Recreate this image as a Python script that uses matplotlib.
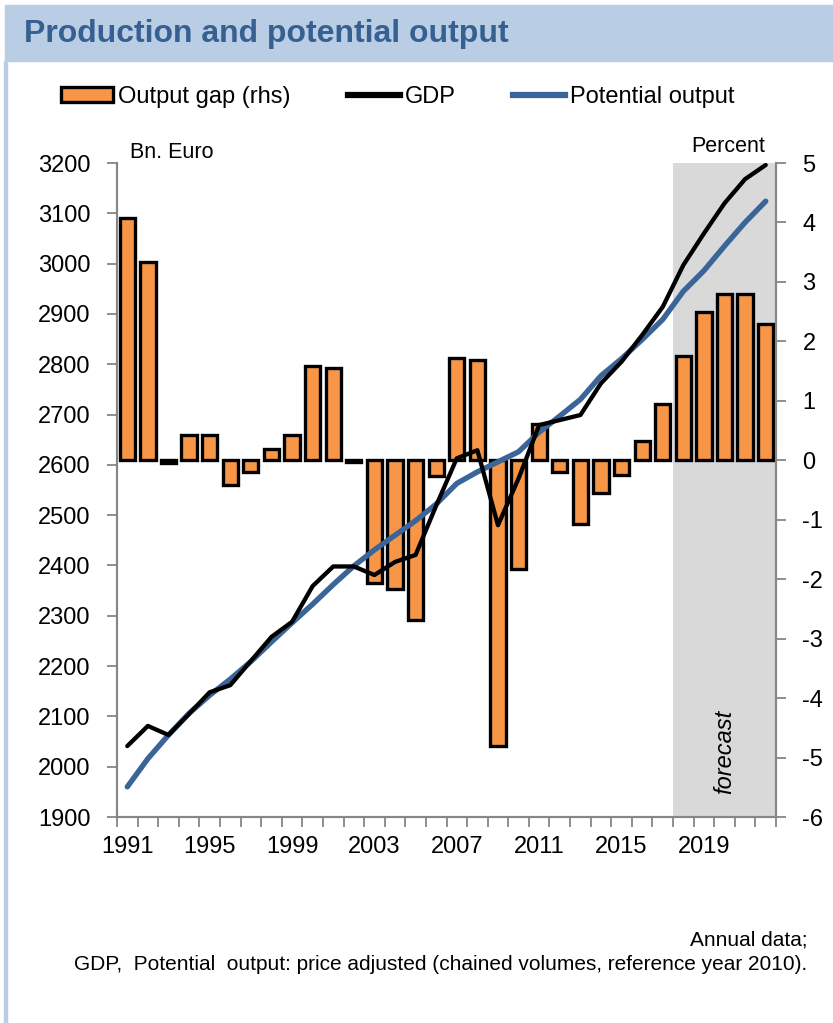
import numpy as np
import matplotlib
matplotlib.use("Agg")
import matplotlib.pyplot as plt
from matplotlib.patches import Rectangle, Patch
from matplotlib.lines import Line2D

plt.rcParams['font.family'] = ['Liberation Sans', 'DejaVu Sans']
plt.rcParams['axes.unicode_minus'] = False

# ---- data ----
years = list(range(1991, 2023))
output_gap = [4.07, 3.33, -0.05, 0.42, 0.42, -0.42, -0.19, 0.19, 0.42, 1.59,
              1.55, -0.03, -2.07, -2.17, -2.68, -0.27, 1.72, 1.69, -4.81, -1.83,
              0.61, -0.19, -1.07, -0.55, -0.24, 0.32, 0.95, 1.76, 2.50, 2.80,
              2.80, 2.30]
gdp = [2041, 2081, 2063, 2105, 2148, 2162, 2210, 2258, 2288, 2359,
       2398, 2398, 2381, 2407, 2421, 2519, 2613, 2629, 2480, 2573,
       2679, 2689, 2699, 2762, 2805, 2858, 2914, 2997, 3060, 3120,
       3168, 3196]
potential = [1960, 2016, 2063, 2106, 2142, 2174, 2209, 2248, 2286, 2323,
             2362, 2399, 2431, 2460, 2489, 2522, 2563, 2586, 2606, 2626,
             2665, 2697, 2730, 2777, 2811, 2849, 2889, 2945, 2986, 3035,
             3082, 3124]
tick_years = [1991, 1995, 1999, 2003, 2007, 2011, 2015, 2019]
forecast_start = 2018
left_ticks = list(range(1900, 3201, 100))
right_ticks = list(range(-6, 6, 1))

ORANGE = '#F79646'
BLUE = '#3B6598'
GRAY = '#868686'
TITLE_C = '#376092'
BAND = '#B9CDE5'

W, H = 833, 1023
fig = plt.figure(figsize=(W / 100, H / 100), dpi=100)

# header band and frame
fig.patches.append(Rectangle((5 / W, 1 - 61 / H), 1 - 5 / W, 56 / H,
                             transform=fig.transFigure, color=BAND, zorder=0))
fig.patches.append(Rectangle((4 / W, 0), 2.5 / W, 1 - 61 / H,
                             transform=fig.transFigure, color=BAND, zorder=0))
fig.text(24 / W, 1 - 34 / H, 'Production and potential output', fontsize=23,
         fontweight='bold', color=TITLE_C, va='center', ha='left')

ax = fig.add_axes([117 / W, 1 - 817 / H, (776 - 117) / W, (817 - 163) / H])
x = np.arange(len(years))

# forecast shading
fs = years.index(forecast_start)
ax.axvspan(fs - 0.5, len(years) - 0.5, color='#D9D9D9', zorder=0, lw=0)

ax.bar(x, output_gap, width=0.74, color=ORANGE, edgecolor='black',
       linewidth=2.4, zorder=2)
ax.set_ylim(-6, 5)
ax.set_xlim(-0.5, len(years) - 0.5)

ax2 = ax.twinx()
ax2.plot(x, potential, color=BLUE, lw=3.9, solid_capstyle='round',
         solid_joinstyle='round', zorder=3)
ax2.plot(x, gdp, color='black', lw=3.1, solid_capstyle='round',
         solid_joinstyle='round', zorder=4)
ax2.set_ylim(1900, 3200)

# axis sides (set after twinx, which resets them)
ax.yaxis.tick_right()
ax.yaxis.set_label_position('right')
ax.set_yticks(right_ticks)
ax2.yaxis.tick_left()
ax2.yaxis.set_label_position('left')
ax2.set_yticks(left_ticks)

ax.text(years.index(2020), -4.9, 'forecast', rotation=90, fontstyle='italic',
        fontsize=17, ha='center', va='center', zorder=5)

# x ticks: marks at boundaries, labels at selected years
ax.set_xticks(np.arange(-0.5, len(years), 1))
ax.set_xticklabels([])
ax.set_xticks([years.index(y) for y in tick_years], minor=True)
ax.set_xticklabels([str(y) for y in tick_years], minor=True)
ax.tick_params(axis='x', which='major', length=7, width=1.3, color=GRAY,
               direction='out')
ax.tick_params(axis='x', which='minor', length=0, pad=14, labelsize=17)
ax.tick_params(axis='y', length=7, width=1.3, color=GRAY, pad=12,
               labelsize=17, direction='out', left=False, labelleft=False,
               right=True, labelright=True)
ax2.tick_params(axis='y', length=7, width=1.3, color=GRAY, pad=12,
                labelsize=17, direction='out', right=False, labelright=False,
                left=True, labelleft=True)

for a in (ax, ax2):
    a.spines['top'].set_visible(False)
    for s in ('left', 'right', 'bottom'):
        a.spines[s].set_color(GRAY)
        a.spines[s].set_linewidth(1.5)

fig.text(130 / W, 1 - 153 / H, 'Bn. Euro', fontsize=15.5, va='center', ha='left')
fig.text(765 / W, 1 - 147 / H, 'Percent', fontsize=15.5, va='center', ha='right')

handles = [Patch(facecolor=ORANGE, edgecolor='black', linewidth=2.4),
           Line2D([], [], color='black', lw=4.5),
           Line2D([], [], color=BLUE, lw=4.5)]
labels = ['Output gap (rhs)', 'GDP', 'Potential output']
fig.legend(handles, labels, loc='center left',
           bbox_to_anchor=(61 / W, 1 - 97 / H), ncol=3, frameon=False,
           fontsize=17, handlelength=2.2, handleheight=0.6,
           handletextpad=0.2, columnspacing=2.45, borderpad=0,
           borderaxespad=0)

fig.text(807 / W, 1 - 940 / H, 'Annual data;', fontsize=15, ha='right',
         va='center')
fig.text(807 / W, 1 - 965 / H,
         'GDP,  Potential  output: price adjusted (chained volumes, reference year 2010).',
         fontsize=15, ha='right', va='center')

fig.savefig('out.png', dpi=100)
